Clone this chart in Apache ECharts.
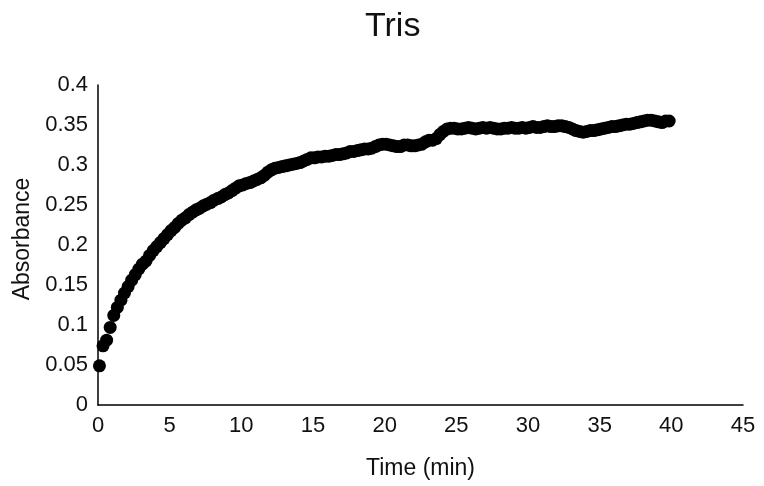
<!DOCTYPE html>
<html>
<head>
<meta charset="utf-8">
<title>Tris</title>
<script src="https://cdn.jsdelivr.net/npm/echarts@6/dist/echarts.min.js"></script>
<style>
  html, body { margin: 0; padding: 0; background: #fff; }
  #chart { width: 764px; height: 486px; }
</style>
</head>
<body>
<div id="chart"></div>
<script>
// 时间 (min)
const timeMin = [
    0.1, 0.35, 0.6, 0.85, 1.1, 1.35, 1.6, 1.85, 2.1, 2.35,
    2.6, 2.85, 3.1, 3.35, 3.6, 3.85, 4.1, 4.35, 4.6, 4.85,
    5.1, 5.35, 5.6, 5.85, 6.1, 6.35, 6.6, 6.85, 7.1, 7.35,
    7.6, 7.85, 8.1, 8.35, 8.6, 8.85, 9.1, 9.35, 9.6, 9.85,
    10.1, 10.35, 10.6, 10.85, 11.1, 11.35, 11.6, 11.85, 12.1, 12.35,
    12.6, 12.85, 13.1, 13.35, 13.6, 13.85, 14.1, 14.35, 14.6, 14.85,
    15.1, 15.35, 15.6, 15.85, 16.1, 16.35, 16.6, 16.85, 17.1, 17.35,
    17.6, 17.85, 18.1, 18.35, 18.6, 18.85, 19.1, 19.35, 19.6, 19.85,
    20.1, 20.35, 20.6, 20.85, 21.1, 21.35, 21.6, 21.85, 22.1, 22.35,
    22.6, 22.85, 23.1, 23.35, 23.6, 23.85, 24.1, 24.35, 24.6, 24.85,
    25.1, 25.35, 25.6, 25.85, 26.1, 26.35, 26.6, 26.85, 27.1, 27.35,
    27.6, 27.85, 28.1, 28.35, 28.6, 28.85, 29.1, 29.35, 29.6, 29.85,
    30.1, 30.35, 30.6, 30.85, 31.1, 31.35, 31.6, 31.85, 32.1, 32.35,
    32.6, 32.85, 33.1, 33.35, 33.6, 33.85, 34.1, 34.35, 34.6, 34.85,
    35.1, 35.35, 35.6, 35.85, 36.1, 36.35, 36.6, 36.85, 37.1, 37.35,
    37.6, 37.85, 38.1, 38.35, 38.6, 38.85, 39.1, 39.35, 39.6, 39.85
];

// 吸光度
const absorbance = [
    0.049, 0.074, 0.081, 0.097, 0.112, 0.122, 0.131, 0.140, 0.148, 0.156,
    0.163, 0.170, 0.176, 0.180, 0.187, 0.193, 0.198, 0.203, 0.208, 0.213,
    0.218, 0.222, 0.227, 0.231, 0.234, 0.238, 0.241, 0.244, 0.246, 0.249,
    0.251, 0.253, 0.256, 0.258, 0.260, 0.263, 0.265, 0.268, 0.271, 0.274,
    0.275, 0.277, 0.278, 0.280, 0.282, 0.284, 0.287, 0.291, 0.294, 0.296,
    0.297, 0.298, 0.299, 0.300, 0.301, 0.302, 0.303, 0.305, 0.307, 0.309,
    0.309, 0.310, 0.310, 0.311, 0.311, 0.312, 0.313, 0.313, 0.314, 0.315,
    0.317, 0.317, 0.318, 0.319, 0.320, 0.320, 0.321, 0.323, 0.325, 0.326,
    0.326, 0.325, 0.324, 0.323, 0.323, 0.325, 0.325, 0.324, 0.324, 0.325,
    0.326, 0.329, 0.331, 0.331, 0.333, 0.338, 0.342, 0.345, 0.346, 0.346,
    0.345, 0.345, 0.346, 0.347, 0.346, 0.345, 0.346, 0.347, 0.346, 0.347,
    0.346, 0.345, 0.345, 0.346, 0.346, 0.347, 0.346, 0.346, 0.347, 0.346,
    0.347, 0.348, 0.347, 0.347, 0.348, 0.349, 0.348, 0.348, 0.349, 0.349,
    0.348, 0.347, 0.345, 0.343, 0.342, 0.341, 0.342, 0.343, 0.343, 0.344,
    0.345, 0.346, 0.347, 0.348, 0.348, 0.349, 0.350, 0.351, 0.351, 0.352,
    0.353, 0.354, 0.355, 0.356, 0.356, 0.355, 0.354, 0.353, 0.355, 0.355
];

const chart = echarts.init(document.getElementById('chart'));

const textColor = '#111';
const fontFamily = '"Liberation Sans", Arial, sans-serif';

chart.setOption({
    animation: false,
    title: {
        text: 'Tris',
        left: 360,
        top: 5,
        textStyle: {
            fontFamily: fontFamily,
            fontSize: 34,
            fontWeight: 'normal',
            color: textColor
        }
    },
    grid: {
        left: 98,
        right: 21,
        top: 85,
        bottom: 81
    },
    xAxis: {
        type: 'value',
        min: 0,
        max: 45,
        interval: 5,
        name: 'Time (min)',
        nameLocation: 'middle',
        nameGap: 52,
        nameTextStyle: { fontFamily: fontFamily, fontSize: 23, color: textColor },
        axisLine: { show: true, onZero: false, lineStyle: { color: '#000', width: 1.5 } },
        axisTick: { show: false },
        splitLine: { show: false },
        axisLabel: { fontFamily: fontFamily, fontSize: 22, color: textColor, margin: 10 }
    },
    yAxis: {
        type: 'value',
        min: 0,
        max: 0.4,
        interval: 0.05,
        name: 'Absorbance',
        nameLocation: 'middle',
        nameGap: 64,
        nameTextStyle: { fontFamily: fontFamily, fontSize: 23, color: textColor, padding: [0, 0, 0, 12] },
        axisLine: { show: true, onZero: false, lineStyle: { color: '#000', width: 1.5 } },
        axisTick: { show: false },
        splitLine: { show: false },
        axisLabel: {
            fontFamily: fontFamily,
            fontSize: 22,
            color: textColor,
            margin: 10,
            formatter: function (v) { return String(Math.round(v * 100) / 100); }
        }
    },
    series: [{
        type: 'scatter',
        data: timeMin.map((t, i) => [t, absorbance[i]]),
        symbol: 'circle',
        symbolSize: 13,
        itemStyle: { color: '#000', opacity: 1 }
    }]
});
</script>
</body>
</html>
